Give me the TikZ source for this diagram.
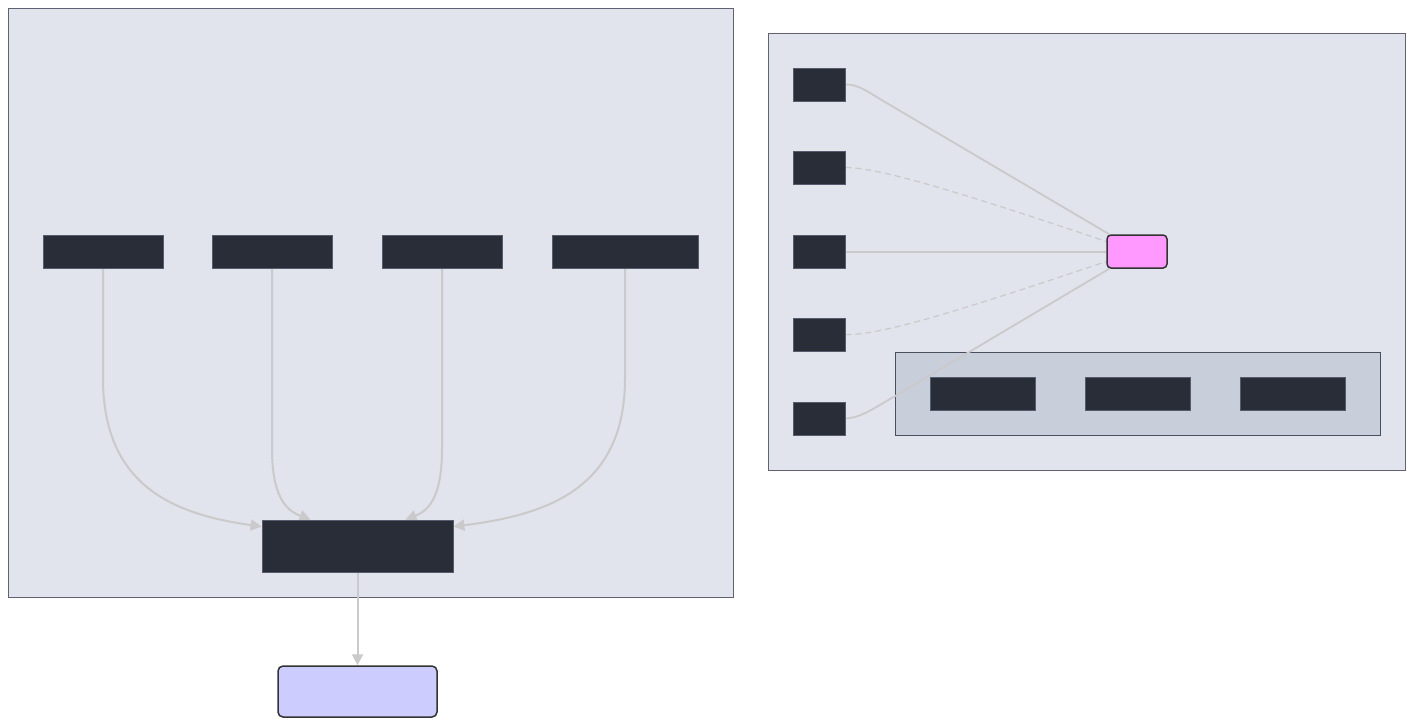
\documentclass[tikz,border=0pt]{standalone}
\usetikzlibrary{arrows.meta}
\definecolor{clbg}{HTML}{E1E4EC}
\definecolor{clbd}{HTML}{5E6272}
\definecolor{subbg}{HTML}{C8CEDA}
\definecolor{subbd}{HTML}{4A4F5E}
\definecolor{dk}{HTML}{292D37}
\definecolor{dkbd}{HTML}{565C6C}
\definecolor{edge}{HTML}{CACACA}
\definecolor{lav}{HTML}{CCCCFF}
\definecolor{pk}{HTML}{FF99FF}
\pgfdeclarelayer{bg}
\pgfsetlayers{bg,main}
\begin{document}
\begin{tikzpicture}[x=1pt,y=-1pt,
  dbox/.style={draw=dkbd,fill=dk,line width=0.8pt,inner sep=0pt,minimum height=33pt},
  ebox/.style={draw=edge,line width=2pt},
  arr/.style={ebox,-{Triangle[length=11pt,width=11pt]}},
  sol/.style={draw=edge,line width=1.8pt},
  dsh/.style={draw=edge,line width=1.2pt,dash pattern=on 6pt off 4pt}]
\useasboundingbox (0,0) rectangle (1413,726);
% clusters
\begin{pgfonlayer}{bg}
\draw[fill=clbg,draw=clbd,line width=0.8pt] (8,8) rectangle (733,597);
\draw[fill=clbg,draw=clbd,line width=0.8pt] (768,33) rectangle (1405,470);
\draw[fill=subbg,draw=subbd,line width=0.8pt] (895,352) rectangle (1380,435);
\end{pgfonlayer}
% left nodes
\node[dbox,minimum width=120pt] (a1) at (103,251.5) {};
\node[dbox,minimum width=120pt] (a2) at (272,251.5) {};
\node[dbox,minimum width=120pt] (a3) at (442,251.5) {};
\node[dbox,minimum width=146pt] (a4) at (625,251.5) {};
\node[dbox,minimum width=191pt,minimum height=52pt] (m) at (357.5,546) {};
\node[draw=black!80,fill=lav,line width=1.5pt,rounded corners=5pt,inner sep=0pt,minimum width=159pt,minimum height=51pt] (out) at (357.5,691.5) {};
% right nodes
\node[dbox,minimum width=52pt] (b1) at (819,84.5) {};
\node[dbox,minimum width=52pt] (b2) at (819,167.5) {};
\node[dbox,minimum width=52pt] (b3) at (819,251.5) {};
\node[dbox,minimum width=52pt] (b4) at (819,334.5) {};
\node[dbox,minimum width=52pt] (b5) at (819,418.5) {};
\node[dbox,minimum width=105pt] (c1) at (982.5,393.5) {};
\node[dbox,minimum width=105pt] (c2) at (1137.5,393.5) {};
\node[dbox,minimum width=105pt] (c3) at (1292.5,393.5) {};
\node[draw=black!80,fill=pk,line width=1.5pt,rounded corners=4pt,inner sep=0pt,minimum width=60pt,minimum height=33pt] (pk) at (1137,251.5) {};
% edges
\begin{pgfonlayer}{bg}
\draw[arr] (a1.south) -- ++(0,110) .. controls (103,490) and (180,515) .. ([yshift=-7pt]m.north west);
\draw[arr] (a2.south) -- ++(0,180) .. controls (272,495) and (285,510) .. ([xshift=-47pt]m.north);
\draw[arr] (a3.south) -- ++(0,180) .. controls (442,495) and (430,510) .. ([xshift=48pt]m.north);
\draw[arr] (a4.south) -- ++(0,110) .. controls (625,490) and (545,515) .. ([yshift=-7pt]m.north east);
\draw[arr] (m.south) -- (out.north);
\draw[sol] (b1.east) .. controls (858,84) and (868,92) .. (885,102) -- ([xshift=3pt]pk.north west);
\draw[dsh] (b2.east) .. controls (875,168) and (930,182) .. ([yshift=10pt]pk.west);
\draw[draw=edge,line width=2pt] (b3.east) -- (pk.west);
\draw[dsh] (b4.east) .. controls (875,335) and (930,321) .. ([yshift=-10pt]pk.west);
\draw[sol] (b5.east) .. controls (858,418) and (868,412) .. (885,402) -- ([xshift=3pt]pk.south west);
\end{pgfonlayer}
\end{tikzpicture}
\end{document}
